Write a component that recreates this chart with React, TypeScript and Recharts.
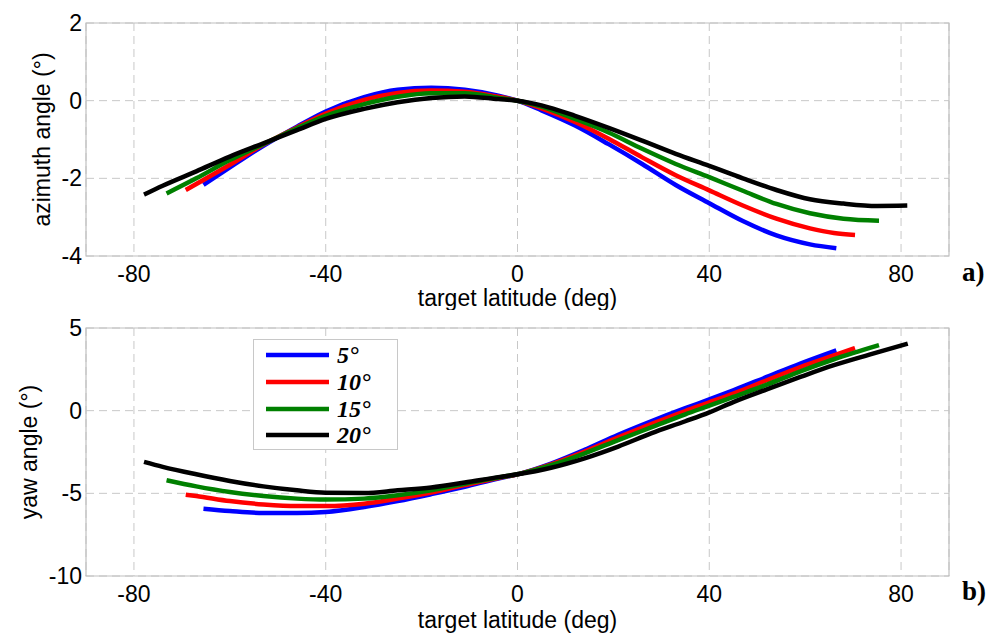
import React from 'react';
import { LineChart, Line, XAxis, YAxis, CartesianGrid, ReferenceArea, Legend } from 'recharts';

// ---- axis ticks / names ----
const xTicks = [-80, -40, 0, 40, 80];
const azTicks = [-4, -2, 0, 2];
const yawTicks = [-10, -5, 0, 5];
const seriesNames = ['5°', '10°', '15°', '20°'];
const seriesColors = ['#0000ff', '#ff0000', '#008000', '#000000'];

// ---- panel a) azimuth angle ----
const latAz5 = [-65.5, -60, -53, -46, -40, -32, -25, -18, -11, -4, 0, 5, 12, 19, 26, 33, 40, 47, 54, 61, 66.5];
const az5 = [-2.17, -1.72, -1.16, -0.67, -0.28, 0.09, 0.28, 0.33, 0.28, 0.13, 0, -0.25, -0.64, -1.12, -1.63, -2.17, -2.64, -3.1, -3.47, -3.7, -3.8];

const latAz10 = [-69.2, -60, -53, -46, -40, -32, -25, -18, -11, -4, 0, 5, 12, 19, 26, 33, 40, 47, 54, 61, 66, 70.4];
const az10 = [-2.3, -1.65, -1.13, -0.69, -0.33, 0.02, 0.2, 0.26, 0.23, 0.1, 0, -0.2, -0.55, -0.98, -1.46, -1.92, -2.31, -2.7, -3.04, -3.29, -3.41, -3.46];

const latAz15 = [-73.2, -67, -60, -53, -46, -40, -32, -25, -18, -11, -4, 0, 5, 12, 19, 26, 33, 40, 47, 54, 61, 68, 75.4];
const az15 = [-2.39, -2.0, -1.53, -1.12, -0.71, -0.39, -0.09, 0.1, 0.19, 0.19, 0.07, 0, -0.15, -0.47, -0.82, -1.24, -1.63, -1.97, -2.32, -2.66, -2.9, -3.04, -3.09];

const latAz20 = [-77.9, -74, -67, -60, -53, -46, -40, -32, -25, -18, -11, -4, 0, 5, 12, 19, 26, 33, 40, 47, 54, 61, 68, 75, 81.3];
const az20 = [-2.42, -2.19, -1.82, -1.44, -1.1, -0.76, -0.47, -0.21, -0.04, 0.07, 0.11, 0.04, 0, -0.12, -0.39, -0.7, -1.03, -1.37, -1.68, -2.0, -2.3, -2.54, -2.65, -2.71, -2.7];

// ---- panel b) yaw angle ----
const latYaw5 = [-65.5, -60, -53, -46, -40, -32, -25, -18, -11, -4, 0, 7, 14, 21, 28, 35, 40, 45, 52, 59, 66.5];
const yaw5 = [-5.93, -6.07, -6.19, -6.19, -6.13, -5.83, -5.47, -5.05, -4.6, -4.1, -3.85, -3.2, -2.37, -1.46, -0.63, 0.15, 0.68, 1.23, 2.04, 2.85, 3.65];

const latYaw10 = [-69.2, -67, -60, -53, -46, -40, -32, -25, -18, -11, -4, 0, 7, 14, 21, 28, 35, 40, 45, 52, 59, 66, 70.4];
const yaw10 = [-5.08, -5.16, -5.47, -5.67, -5.77, -5.77, -5.63, -5.32, -4.95, -4.5, -4.07, -3.85, -3.25, -2.48, -1.62, -0.8, -0.02, 0.5, 1.03, 1.84, 2.64, 3.35, 3.79];

const latYaw15 = [-73.2, -67, -60, -53, -46, -40, -32, -25, -18, -11, -4, 0, 7, 14, 21, 28, 35, 40, 45, 52, 59, 66, 75.4];
const yaw15 = [-4.21, -4.58, -4.92, -5.16, -5.32, -5.38, -5.32, -5.12, -4.82, -4.42, -4.04, -3.85, -3.3, -2.58, -1.78, -1.0, -0.22, 0.3, 0.83, 1.57, 2.38, 3.11, 3.96];

const latYaw20 = [-77.9, -74, -67, -60, -53, -46, -40, -32, -25, -18, -11, -4, 0, 7, 14, 21, 28, 35, 40, 45, 52, 59, 66, 73.4, 81.4];
const yaw20 = [-3.1, -3.4, -3.85, -4.25, -4.58, -4.82, -4.96, -4.98, -4.82, -4.65, -4.35, -4.02, -3.85, -3.45, -2.88, -2.17, -1.36, -0.64, -0.1, 0.52, 1.29, 2.04, 2.75, 3.39, 4.06];

const zip = (lat: number[], v: number[]) => lat.map((l, i) => ({ lat: l, v: v[i] }));

const azSeries = [zip(latAz5, az5), zip(latAz10, az10), zip(latAz15, az15), zip(latAz20, az20)];
const yawSeries = [zip(latYaw5, yaw5), zip(latYaw10, yaw10), zip(latYaw15, yaw15), zip(latYaw20, yaw20)];

const SANS = "'Liberation Sans', Arial, Helvetica, sans-serif";
const SERIF = "'Liberation Serif', 'Times New Roman', Times, serif";
const FS = 23;

const renderLegend = () => (
  <div
    style={{
      width: 145,
      height: 111,
      boxSizing: 'border-box',
      border: '1px solid #c8c8c8',
      background: '#fff',
      position: 'relative',
    }}
  >
    {seriesNames.map((name, i) => (
      <div
        key={name}
        style={{
          position: 'absolute',
          left: 12,
          top: 15 + i * 26.8 - 11,
          height: 22,
          display: 'flex',
          alignItems: 'center',
        }}
      >
        <svg width={63} height={6} style={{ display: 'block' }}>
          <line x1={0} y1={3} x2={63} y2={3} stroke={seriesColors[i]} strokeWidth={4.5} />
        </svg>
        <span
          style={{
            marginLeft: 8,
            fontFamily: SERIF,
            fontWeight: 'bold',
            fontStyle: 'italic',
            fontSize: 24,
            lineHeight: '22px',
            color: '#000',
            whiteSpace: 'nowrap',
          }}
        >
          {name}
        </span>
      </div>
    ))}
  </div>
);

type PanelProps = {
  series: { lat: number; v: number }[][];
  yDomain: [number, number];
  yTicks: number[];
  yLabel: string;
  height: number;
  marginTop: number;
  xAxisHeight: number;
  yLabelOffset: number;
  xLabelOffset: number;
  showLegend?: boolean;
};

function Panel(p: PanelProps) {
  return (
    <LineChart width={1000} height={p.height} margin={{ top: p.marginTop, right: 51, bottom: 0, left: 0 }}>
      <CartesianGrid stroke="#c8c8c8" strokeDasharray="8 5" />
      <ReferenceArea
        x1={-90}
        x2={90}
        y1={p.yDomain[0]}
        y2={p.yDomain[1]}
        fill="none"
        fillOpacity={0}
        stroke="#c0c0c0"
        strokeWidth={1.2}
      />
      <XAxis
        dataKey="lat"
        type="number"
        domain={[-90, 90]}
        ticks={xTicks}
        allowDataOverflow
        axisLine={false}
        tickLine={false}
        tickSize={0}
        tickMargin={10}
        height={p.xAxisHeight}
        tick={{ fill: '#000', fontSize: FS, fontFamily: SANS }}
        label={{
          value: 'target latitude (deg)',
          position: 'insideBottom',
          offset: p.xLabelOffset,
          fill: '#000',
          fontSize: FS,
          fontFamily: SANS,
        }}
      />
      <YAxis
        type="number"
        domain={p.yDomain}
        ticks={p.yTicks}
        allowDataOverflow
        axisLine={false}
        tickLine={false}
        tickSize={0}
        tickMargin={4}
        width={86}
        tick={{ fill: '#000', fontSize: FS, fontFamily: SANS }}
        label={{
          value: p.yLabel,
          angle: -90,
          position: 'insideLeft',
          offset: p.yLabelOffset,
          fill: '#000',
          fontSize: FS,
          fontFamily: SANS,
          style: { textAnchor: 'middle' },
        }}
      />
      {p.showLegend && (
        <Legend
          layout="vertical"
          align="center"
          verticalAlign="middle"
          content={renderLegend}
          wrapperStyle={{ position: 'absolute', left: 253, top: 29, width: 145, height: 111, margin: 0, padding: 0 }}
        />
      )}
      {p.series.map((d, i) => (
        <Line
          key={seriesNames[i]}
          name={seriesNames[i]}
          data={d}
          dataKey="v"
          type="monotone"
          stroke={seriesColors[i]}
          strokeWidth={4.5}
          dot={false}
          activeDot={false}
          isAnimationActive={false}
        />
      ))}
    </LineChart>
  );
}

const tagStyle: React.CSSProperties = {
  position: 'absolute',
  left: 962,
  fontFamily: SERIF,
  fontWeight: 'bold',
  fontSize: 27,
  lineHeight: '27px',
  color: '#000',
};

export default function App() {
  return (
    <div style={{ position: 'absolute', left: 0, top: 0, width: 1000, height: 633, background: '#fff' }}>
      <div style={{ position: 'absolute', left: 0, top: 0 }}>
        <Panel
          series={azSeries}
          yDomain={[-4, 2]}
          yTicks={azTicks}
          yLabel="azimuth angle (°)"
          height={310}
          marginTop={23}
          xAxisHeight={54}
          yLabelOffset={42}
          xLabelOffset={4}
        />
      </div>
      <div style={{ position: 'absolute', left: 0, top: 310 }}>
        <Panel
          series={yawSeries}
          yDomain={[-10, 5]}
          yTicks={yawTicks}
          yLabel="yaw angle (°)"
          height={323}
          marginTop={18}
          xAxisHeight={57}
          yLabelOffset={29}
          xLabelOffset={5}
          showLegend
        />
      </div>
      <div style={{ ...tagStyle, top: 259 }}>a)</div>
      <div style={{ ...tagStyle, top: 578 }}>b)</div>
    </div>
  );
}
